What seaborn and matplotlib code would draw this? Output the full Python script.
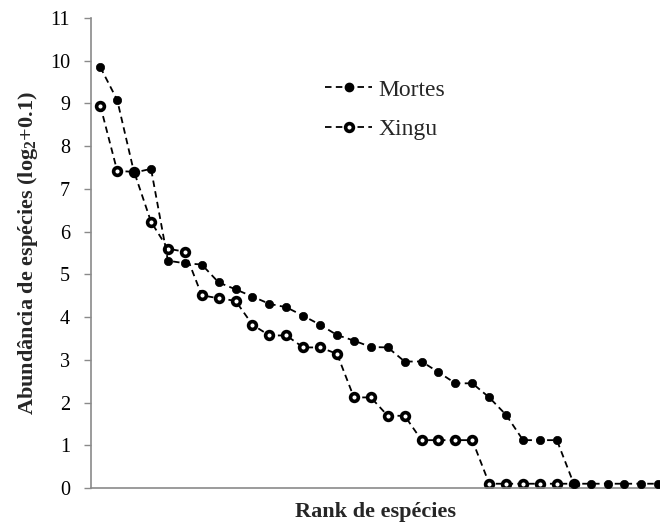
import numpy as np
import pandas as pd
import matplotlib
matplotlib.use("Agg")
import matplotlib.pyplot as plt
import seaborn as sns
from matplotlib.lines import Line2D

# Rank-abundance values, log2 scale (+0.1), ordered by rank
mortes = [9.85, 9.08, 7.38, 7.47, 5.32, 5.26, 5.23, 4.81, 4.65, 4.48, 4.31, 4.23,
          4.03, 3.82, 3.58, 3.45, 3.30, 3.29, 2.96, 2.96, 2.71, 2.45, 2.45, 2.12,
          1.71, 1.12, 1.12, 1.12, 0.1, 0.1, 0.1, 0.1, 0.1, 0.1]
xingu = [8.95, 7.42, 7.40, 6.23, 5.60, 5.53, 4.51, 4.44, 4.38, 3.82, 3.57, 3.57,
         3.29, 3.29, 3.14, 2.12, 2.12, 1.69, 1.69, 1.12, 1.12, 1.12, 1.12,
         0.1, 0.1, 0.1, 0.1, 0.1, 0.1]
y_ticks = list(range(0, 12))

df_m = pd.DataFrame({"rank": np.arange(len(mortes)), "abund": mortes})
df_x = pd.DataFrame({"rank": np.arange(len(xingu)), "abund": xingu})

sns.set_theme(style="white")
plt.rcParams["font.family"] = ["Liberation Serif", "DejaVu Serif"]
plt.rcParams["mathtext.fontset"] = "custom"
plt.rcParams["mathtext.rm"] = "Liberation Serif"
plt.rcParams["mathtext.bf"] = "Liberation Serif:bold"
plt.rcParams["mathtext.default"] = "bf"

fig = plt.figure(figsize=(6.6, 5.25), dpi=100)
ax = fig.add_axes([91 / 660, 37 / 525, 1 - 91 / 660, (488 - 18) / 525])

dash = (0, (3.6, 2.4))
sns.lineplot(data=df_x, x="rank", y="abund", ax=ax, color="black",
             linestyle=dash, linewidth=1.3, marker="o", markersize=5.6,
             markeredgewidth=2.6, markerfacecolor="white",
             markeredgecolor="black", zorder=2)
sns.lineplot(data=df_m, x="rank", y="abund", ax=ax, color="black",
             linestyle=dash, linewidth=1.3, marker="o", markersize=6.0,
             markeredgewidth=0.5, markerfacecolor="black",
             markeredgecolor="black", zorder=3)

ax.set_xlim(-0.55, 33.1)
ax.set_ylim(0, 11)
ax.set_yticks(y_ticks)
ax.set_xticks([])
ax.tick_params(axis="y", direction="out", length=5, width=1, color="#8a8a8a",
               labelsize=14.5, labelcolor="black", pad=10, left=True)
for side in ("top", "right"):
    ax.spines[side].set_visible(False)
for side in ("left", "bottom"):
    ax.spines[side].set_color("#8a8a8a")
    ax.spines[side].set_linewidth(1.2)

ax.set_xlabel("Rank de espécies", fontsize=16, fontweight="bold", labelpad=10)
ax.set_ylabel("Abundância de espécies (log$_2$+0.1)", fontsize=16,
              fontweight="bold", labelpad=7)

handles = [
    Line2D([], [], color="black", linestyle=dash, linewidth=1.3, marker="o",
           markersize=6.0, markerfacecolor="black", markeredgecolor="black"),
    Line2D([], [], color="black", linestyle=dash, linewidth=1.3, marker="o",
           markersize=5.6, markeredgewidth=2.6, markerfacecolor="white",
           markeredgecolor="black"),
]
ax.legend(handles, ["Mortes", "Xingu"], loc="upper left",
          bbox_to_anchor=(325 / 660, 1 - 79 / 525), bbox_transform=fig.transFigure,
          frameon=False, fontsize=17, handlelength=2.0, handletextpad=0.25,
          labelspacing=0.76, borderpad=0, borderaxespad=0, numpoints=1)

fig.savefig("out.png", dpi=100)
